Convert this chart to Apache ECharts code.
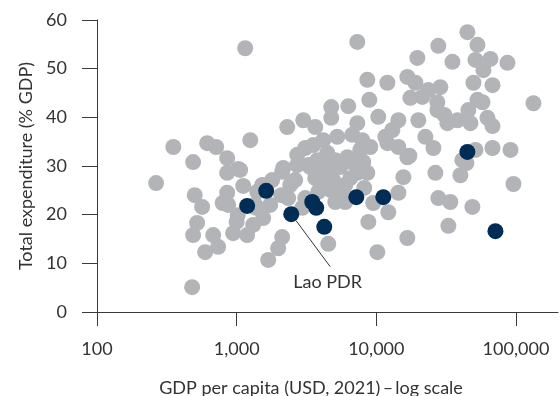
<!DOCTYPE html>
<html><head><meta charset="utf-8">
<script src="https://cdn.jsdelivr.net/npm/echarts@6/dist/echarts.min.js"></script>
<style>html,body{margin:0;padding:0;background:#fff}#c{width:560px;height:396px}</style>
</head><body><div id="c"></div>
<script>
// Gray: all other countries
const gdpGray = [265,352,488,615,713,855,1025,855,1114,1252,1151,480,501,566,521,488,679,737,595,855,
  794,944,1189,1000,869,1059,1380,1313,1017,1549,1358,1683,1983,2118,2084,2339,2624,2118,3258,2951,
  3100,4528,5085,5994,1738,1523,2301,3000,3655,4757,6300,4757,7310,7310,8620,8910,3100,4170,5250,6730,
  2155,2715,3535,4450,3775,6200,3365,4170,5520,6840,7310,8620,3970,4920,5994,4680,5705,9060,12000,14390,
  16680,15630,14390,12190,8770,16680,10170,9510,8200,8070,7943,12000,10330,13030,11610,14390,20000,16680,19050,17530,
  23600,28750,21370,19680,27800,35080,27360,27360,30700,32280,38100,22450,25640,17250,26480,27800,33880,32810,40000,41300,
  48750,95900,51290,67920,91350,133400,44870,53000,51290,65640,86900,58480,49590,67920,53000,45620,57540,47200,62500,67920,
  44200,4450,3655,2420,5085,3840,6510,7680,2715,1403,1796];
const expGray = [26.5,33.9,30.8,34.7,33.9,31.6,29.4,28.6,25.9,35.3,54.2,5.1,24.0,21.6,18.3,15.8,15.8,13.4,12.3,24.5,
  22.4,16.2,15.8,18.5,22.0,29.2,21.4,17.9,19.9,19.3,22.0,10.7,13.1,15.4,24.0,23.4,27.1,28.8,30.2,21.4,
  23.4,14.0,22.6,22.6,22.0,26.1,38.0,39.4,38.0,42.1,42.3,39.9,38.8,55.5,47.7,43.6,33.7,35.3,36.0,36.4,
  29.6,32.3,34.3,32.7,31.2,31.8,29.8,29.8,29.8,30.6,28.6,28.6,27.1,27.1,26.1,25.1,25.1,33.9,34.7,33.9,
  31.8,27.7,24.5,20.5,18.5,15.2,12.3,22.4,25.5,30.8,35.3,47.1,40.1,37.4,36.0,39.4,39.4,48.3,47.1,44.0,
  45.6,46.2,44.2,52.2,54.7,51.4,43.1,41.5,40.5,38.8,39.4,36.0,33.7,32.1,28.6,23.4,22.6,17.7,28.1,31.2,
  21.6,26.3,33.3,33.7,33.3,42.9,57.5,54.9,51.8,52.0,51.2,49.7,47.1,46.6,43.6,41.5,43.1,38.8,39.9,38.2,
  30.6,28.8,27.5,26.1,31.2,24.7,27.5,33.3,30.2,24.7,27.1];
// Highlighted countries
const gdpDark = [1189,1627,2460,3477,3715,4240,7190,11220,44870,71300];
const expDark = [21.8,24.9,20.1,22.6,21.4,17.5,23.6,23.6,32.9,16.6];
const darkNames = ['','','Lao PDR','','','','','','',''];
const xTicks = [100,1000,10000,100000];
const laoName = 'Lao PDR';
const laoAnchor = [4680, 9.3];

const FONT = 'Lato, "Noto Sans", sans-serif';
const TXT = '#333333';
const AX = '#3a3a3a';

const grayData = gdpGray.map((g,i)=>[g, expGray[i]]);
const darkData = gdpDark.map((g,i)=>[g, expDark[i], darkNames[i]]);

const chart = echarts.init(document.getElementById('c'), null, {renderer:'canvas'});
chart.setOption({
  animation:false,
  grid:{left:97, right:2, top:20, bottom:84, containLabel:false, outerBoundsMode:'none'},
  xAxis:{
    type:'log', logBase:10, min:100, max:200000,
    name:'GDP per capita (USD, 2021)\u2009\u2013\u2009log scale',
    nameLocation:'middle', nameGap:67,
    nameTextStyle:{fontFamily:FONT, fontSize:18, color:TXT, padding:[0,33,0,0]},
    axisLine:{show:true, lineStyle:{color:AX, width:1}},
    axisTick:{show:true, length:14, inside:false, customValues:xTicks, lineStyle:{color:AX}},
    axisLabel:{customValues:xTicks, margin:28, fontFamily:FONT, fontSize:18, color:TXT,
      formatter:v=>Number(v).toLocaleString('en-US')},
    splitLine:{show:false}, minorTick:{show:false}
  },
  yAxis:{
    type:'value', min:0, max:60, interval:10,
    name:'Total expenditure (% GDP)', nameLocation:'middle', nameGap:62,
    nameTextStyle:{fontFamily:FONT, fontSize:18, color:TXT},
    axisLine:{show:true, lineStyle:{color:AX, width:1}},
    axisTick:{show:true, length:15, lineStyle:{color:AX}},
    axisLabel:{margin:30, fontFamily:FONT, fontSize:18, color:TXT},
    splitLine:{show:false}
  },
  series:[
    {type:'scatter', data:grayData, symbol:'circle', symbolSize:16, z:2,
      itemStyle:{color:'#b3b4b8', opacity:1}, emphasis:{disabled:true}},
    {type:'scatter', data:darkData, symbol:'circle', symbolSize:16, z:4,
      itemStyle:{color:'#002d56', opacity:1}, emphasis:{disabled:true}}
  ]
});

const li = darkNames.indexOf(laoName);
const p0 = chart.convertToPixel({gridIndex:0}, [gdpDark[li], expDark[li]]);
const p1 = chart.convertToPixel({gridIndex:0}, laoAnchor);
const dx = p1[0]-p0[0], dy = p1[1]-p0[1], len = Math.hypot(dx,dy);
chart.setOption({
  graphic:[
    {type:'line', z:100, shape:{x1:p0[0]+dx/len*8, y1:p0[1]+dy/len*8, x2:p1[0], y2:p1[1]},
      style:{stroke:'#333', lineWidth:1}},
    {type:'text', z:100, x:p0[0]+2, y:p0[1]+59,
      style:{text:laoName, font:'18px '+FONT, fill:TXT, textVerticalAlign:'top', textAlign:'left'}}
  ]
});
</script>
</body></html>
